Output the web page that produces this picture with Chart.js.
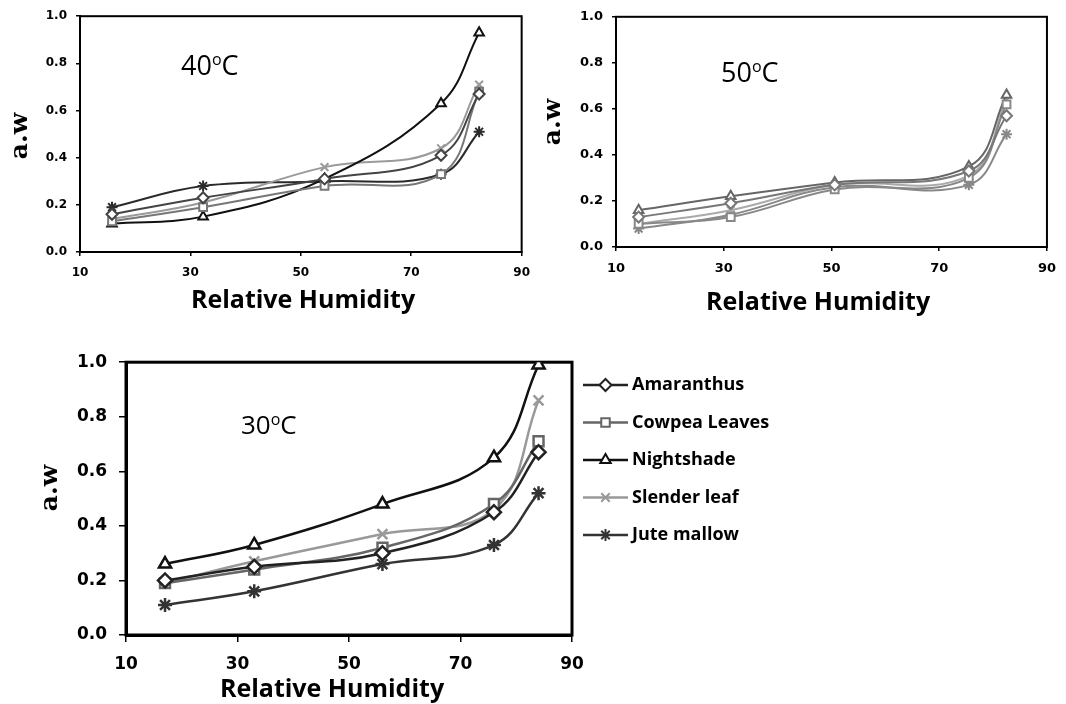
<!DOCTYPE html>
<html>
<head>
<meta charset="utf-8">
<script src="https://cdn.jsdelivr.net/npm/chart.js@4.4.0/dist/chart.umd.min.js"></script>
<style>
  html, body { margin: 0; padding: 0; background: #fff; }
  body { width: 1066px; height: 704px; position: relative; overflow: hidden; }
  canvas { position: absolute; }
  #c40 { left: 0; top: 0; }
  #c50 { left: 540px; top: 0; }
  #c30 { left: 0; top: 340px; }
</style>
</head>
<body>
<canvas id="c40" width="540" height="320"></canvas>
<canvas id="c50" width="526" height="320"></canvas>
<canvas id="c30" width="800" height="364"></canvas>
<script>
const seriesNames = ["Amaranthus", "Cowpea Leaves", "Nightshade", "Slender leaf", "Jute mallow"];
const xTicks = [10, 30, 50, 70, 90];
const yTicks = [0.0, 0.2, 0.4, 0.6, 0.8, 1.0];
const xTitle = "Relative Humidity";
const yTitle = "a.w";

// 40 C  (rows follow seriesNames)
const rh40 = [15.8, 32.3, 54.3, 75.4, 82.3];
const aw40 = [
  [0.16, 0.23, 0.31, 0.41, 0.67],
  [0.13, 0.19, 0.28, 0.33, 0.68],
  [0.12, 0.15, 0.31, 0.63, 0.93],
  [0.14, 0.21, 0.36, 0.44, 0.71],
  [0.19, 0.28, 0.30, 0.33, 0.51]
];

// 50 C
const rh50 = [14.2, 31.3, 50.6, 75.5, 82.5];
const aw50 = [
  [0.13, 0.19, 0.27, 0.33, 0.57],
  [0.10, 0.13, 0.25, 0.30, 0.62],
  [0.16, 0.22, 0.28, 0.35, 0.66],
  [0.10, 0.16, 0.27, 0.31, 0.64],
  [0.08, 0.14, 0.26, 0.27, 0.49]
];

// 30 C
const rh30 = [17, 33, 56, 76, 84];
const aw30 = [
  [0.20, 0.25, 0.30, 0.45, 0.67],
  [0.19, 0.24, 0.32, 0.48, 0.71],
  [0.26, 0.33, 0.48, 0.65, 0.99],
  [0.19, 0.27, 0.37, 0.46, 0.86],
  [0.11, 0.16, 0.26, 0.33, 0.52]
];

const markers = ["rectRot", "rect", "triangle", "crossRot", "star"];

// box around the plot area
const frame = {
  id: "frame",
  beforeDatasetsDraw(chart, args, opts) {
    const { ctx, chartArea: a } = chart;
    ctx.save();
    ctx.strokeStyle = "#000";
    ctx.lineWidth = opts.width;
    ctx.strokeRect(a.left, a.top, a.right - a.left, a.bottom - a.top);
    ctx.restore();
  }
};

// axis titles + temperature note
const notes = {
  id: "notes",
  afterDraw(chart, args, o) {
    const ctx = chart.ctx;
    ctx.save();
    ctx.fillStyle = "#000";
    ctx.textBaseline = "middle";
    ctx.textAlign = "center";
    ctx.font = o.xFont;
    ctx.fillText(xTitle, o.xPos[0], o.xPos[1]);

    ctx.save();
    ctx.translate(o.yPos[0], o.yPos[1]);
    ctx.rotate(-Math.PI / 2);
    ctx.font = o.yFont;
    ctx.fillText(yTitle, 0, 0);
    ctx.restore();

    // "40°C" with a raised small o
    ctx.textAlign = "left";
    let x = o.tPos[0];
    const y = o.tPos[1];
    ctx.font = o.tSize + "px 'Open Sans'";
    ctx.fillText(o.temp, x, y);
    x += ctx.measureText(o.temp).width;
    ctx.font = Math.round(o.tSize * 0.6) + "px 'Open Sans'";
    ctx.fillText("o", x, y - o.tSize * 0.25);
    x += ctx.measureText("o").width;
    ctx.font = o.tSize + "px 'Open Sans'";
    ctx.fillText("C", x, y);
    ctx.restore();
  }
};

// legend with line + marker, like the spreadsheet legend
const sideLegend = {
  id: "sideLegend",
  afterDraw(chart, args, o) {
    if (!o.show) return;
    const ctx = chart.ctx;
    ctx.save();
    chart.data.datasets.forEach((ds, i) => {
      const y = o.y0 + i * o.gap;
      ctx.strokeStyle = ds.borderColor;
      ctx.lineWidth = 2.5;
      ctx.beginPath();
      ctx.moveTo(o.x0, y);
      ctx.lineTo(o.x0 + o.len, y);
      ctx.stroke();
      ctx.fillStyle = "#fff";
      ctx.lineWidth = 2;
      Chart.helpers.drawPoint(ctx, { pointStyle: ds.pointStyle, radius: o.r, borderWidth: 2, rotation: 0 }, o.x0 + o.len / 2, y);
      ctx.fillStyle = "#000";
      ctx.font = "bold 18px 'Open Sans'";
      ctx.textAlign = "left";
      ctx.textBaseline = "middle";
      ctx.fillText(ds.label, o.x0 + o.len + 4, y);
    });
    ctx.restore();
  }
};

function makeChart(id, rh, values, c) {
  const datasets = seriesNames.map((name, i) => ({
    label: name,
    data: rh.map((x, j) => ({ x, y: values[i][j] })),
    borderColor: c.colors[i],
    pointBorderColor: c.colors[i],
    pointBackgroundColor: "#fff",
    pointStyle: markers[i],
    pointRadius: c.r,
    pointBorderWidth: c.lw,
    borderWidth: c.lw,
    tension: 0.4,
    fill: false
  }));
  const tickFont = { family: "DejaVu Sans", weight: "bold", size: c.tick };
  return new Chart(document.getElementById(id), {
    type: "line",
    data: { datasets },
    options: {
      responsive: false,
      animation: false,
      events: [],
      layout: { padding: { top: c.top, right: c.right, left: 0, bottom: 0 } },
      scales: {
        x: {
          type: "linear",
          min: xTicks[0],
          max: xTicks[xTicks.length - 1],
          afterBuildTicks: s => { s.ticks = xTicks.map(v => ({ value: v })); },
          afterFit: s => { s.height = c.xh; },
          ticks: { font: tickFont, color: "#000", padding: c.xpad, maxRotation: 0, autoSkip: false },
          grid: { drawOnChartArea: false, drawTicks: true, tickLength: c.tl, color: "#000", lineWidth: 1.5 },
          border: { display: true, color: "#000", width: c.bw }
        },
        y: {
          min: yTicks[0],
          max: yTicks[yTicks.length - 1],
          afterBuildTicks: s => { s.ticks = yTicks.map(v => ({ value: v })); },
          afterFit: s => { s.width = c.yw; },
          ticks: { font: tickFont, color: "#000", padding: c.ypad, callback: v => v.toFixed(1) },
          grid: { drawOnChartArea: false, drawTicks: true, tickLength: c.tl, color: "#000", lineWidth: 1.5 },
          border: { display: true, color: "#000", width: c.bw }
        }
      },
      plugins: {
        legend: { display: false },
        tooltip: { enabled: false },
        frame: { width: c.bw },
        notes: c.notes,
        sideLegend: c.legend || { show: false }
      }
    },
    plugins: [frame, notes, sideLegend]
  });
}

makeChart("c40", rh40, aw40, {
  colors: ["#444", "#777", "#111", "#9a9a9a", "#2a2a2a"],
  r: 5.5, lw: 2, tick: 12, top: 12, right: 14, xh: 68, yw: 80, tl: 4, xpad: 10, ypad: 9, bw: 2,
  notes: {
    xFont: "bold 25px 'Open Sans'", xPos: [303, 301],
    yFont: "bold 25px 'DejaVu Serif'", yPos: [20, 136],
    temp: "40", tSize: 27, tPos: [181, 67]
  }
});

makeChart("c50", rh50, aw50, {
  colors: ["#777", "#888", "#666", "#aaa", "#888"],
  r: 5.5, lw: 2, tick: 13, top: 10, right: 11, xh: 73, yw: 76, tl: 4, xpad: 10, ypad: 9, bw: 2,
  notes: {
    xFont: "bold 25px 'Open Sans'", xPos: [278, 303],
    yFont: "bold 25px 'DejaVu Serif'", yPos: [13, 122],
    temp: "50", tSize: 27, tPos: [181, 74]
  }
});

makeChart("c30", rh30, aw30, {
  colors: ["#222", "#666", "#111", "#999", "#333"],
  r: 7, lw: 2.5, tick: 17, top: 21, right: 228, xh: 69, yw: 126, tl: 7, xpad: 12, ypad: 12, bw: 3,
  notes: {
    xFont: "bold 25px 'Open Sans'", xPos: [332, 350],
    yFont: "bold 25px 'DejaVu Serif'", yPos: [50, 148],
    temp: "30", tSize: 26, tPos: [241, 87]
  },
  legend: { show: true, x0: 583, len: 45, y0: 45, gap: 37.5, r: 6 }
});
</script>
</body>
</html>
